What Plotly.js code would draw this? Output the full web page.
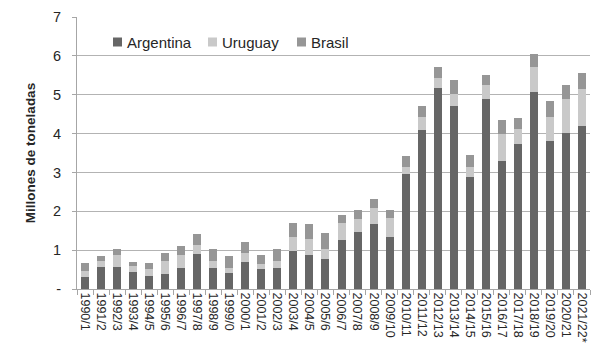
<!DOCTYPE html>
<html>
<head>
<meta charset="utf-8">
<script src="https://cdn.plot.ly/plotly-3.0.1.min.js"></script>
<style>html,body{margin:0;padding:0;background:#fff}#chart{width:611px;height:361px}</style>
</head>
<body>
<div id="chart"></div>
<script>
const categories = ["1990/1","1991/2","1992/3","1993/4","1994/5","1995/6","1996/7","1997/8","1998/9","1999/0","2000/1","2001/2","2002/3","2003/4","2004/5","2005/6","2006/7","2007/8","2008/9","2009/10","2010/11","2011/12","2012/13","2013/14","2014/15","2015/16","2016/17","2017/18","2018/19","2019/20","2020/21","2021/22*"];
const argentina = [0.31,0.57,0.57,0.44,0.34,0.38,0.53,0.91,0.53,0.41,0.70,0.52,0.54,0.98,0.87,0.78,1.26,1.46,1.67,1.34,2.95,4.08,5.17,4.70,2.89,4.90,3.30,3.74,5.06,3.80,4.01,4.20];
const uruguay   = [0.15,0.15,0.31,0.14,0.18,0.34,0.34,0.21,0.20,0.12,0.23,0.12,0.18,0.35,0.42,0.26,0.43,0.33,0.42,0.49,0.19,0.34,0.27,0.32,0.25,0.36,0.69,0.39,0.65,0.62,0.89,0.96];
const brasil    = [0.20,0.13,0.15,0.11,0.14,0.21,0.24,0.29,0.31,0.31,0.28,0.23,0.31,0.37,0.38,0.39,0.21,0.24,0.23,0.20,0.28,0.30,0.28,0.36,0.31,0.26,0.37,0.28,0.35,0.43,0.36,0.41];
const seriesNames = ["Argentina","Uruguay","Brasil"];
const yTickVals = [0,1,2,3,4,5,6,7];
const yTickText = ["-","1","2","3","4","5","6","7"];

const colors = ["#666666","#c9c9c9","#969696"];
const font = "Liberation Sans, Arial, sans-serif";
const values = [argentina, uruguay, brasil];
const traces = seriesNames.map((n,i) => ({type:"bar", x:categories, y:values[i], name:n, marker:{color:colors[i]}, hoverinfo:"y"}));

// plot-area geometry (pixels) used to place the hand-built legend
const W = 611, H = 361, M = {l:77, r:21, t:17, b:72};
const pw = W - M.l - M.r, ph = H - M.t - M.b;
const px = x => (x - M.l) / pw;
const py = y => (H - M.b - y) / ph;
const legendSquareX = [113, 208, 297];
const legendY = 42, sq = 9;
const shapes = legendSquareX.map((x,i) => ({type:"rect", xref:"paper", yref:"paper",
  x0:px(x), x1:px(x+sq), y0:py(legendY+sq/2), y1:py(legendY-sq/2), fillcolor:colors[i], line:{width:0}}));
const annotations = legendSquareX.map((x,i) => ({xref:"paper", yref:"paper", x:px(x+sq+3), y:py(legendY),
  xanchor:"left", yanchor:"middle", showarrow:false, text:seriesNames[i],
  font:{size:15, family:font, color:"#262626"}}));

const layout = {
  width:W, height:H, margin:M,
  barmode:"stack", bargap:0.5,
  paper_bgcolor:"#fff", plot_bgcolor:"#fff",
  font:{family:font, color:"#262626"},
  showlegend:false,
  shapes, annotations,
  xaxis:{type:"category", tickangle:90, tickfont:{size:12.5, family:font, color:"#262626"},
         showline:true, linecolor:"#a6a6a6", linewidth:1, ticks:"outside", tickson:"boundaries",
         ticklen:5, tickcolor:"#a6a6a6", showgrid:false, automargin:false},
  yaxis:{range:[0,7], tickvals:yTickVals, ticktext:yTickText, tickfont:{size:14.5, family:font, color:"#262626"},
         showgrid:true, gridcolor:"#b3b3b3", gridwidth:1, zeroline:false,
         showline:true, linecolor:"#a6a6a6", linewidth:1, ticks:"outside", ticklen:4, tickcolor:"#a6a6a6",
         ticklabelstandoff:8,
         title:{text:"Millones de toneladas", font:{size:13.5, family:font, color:"#262626", weight:"bold"}, standoff:14}, automargin:false}
};
Plotly.newPlot("chart", traces, layout, {displayModeBar:false, staticPlot:true});
</script>
</body>
</html>
